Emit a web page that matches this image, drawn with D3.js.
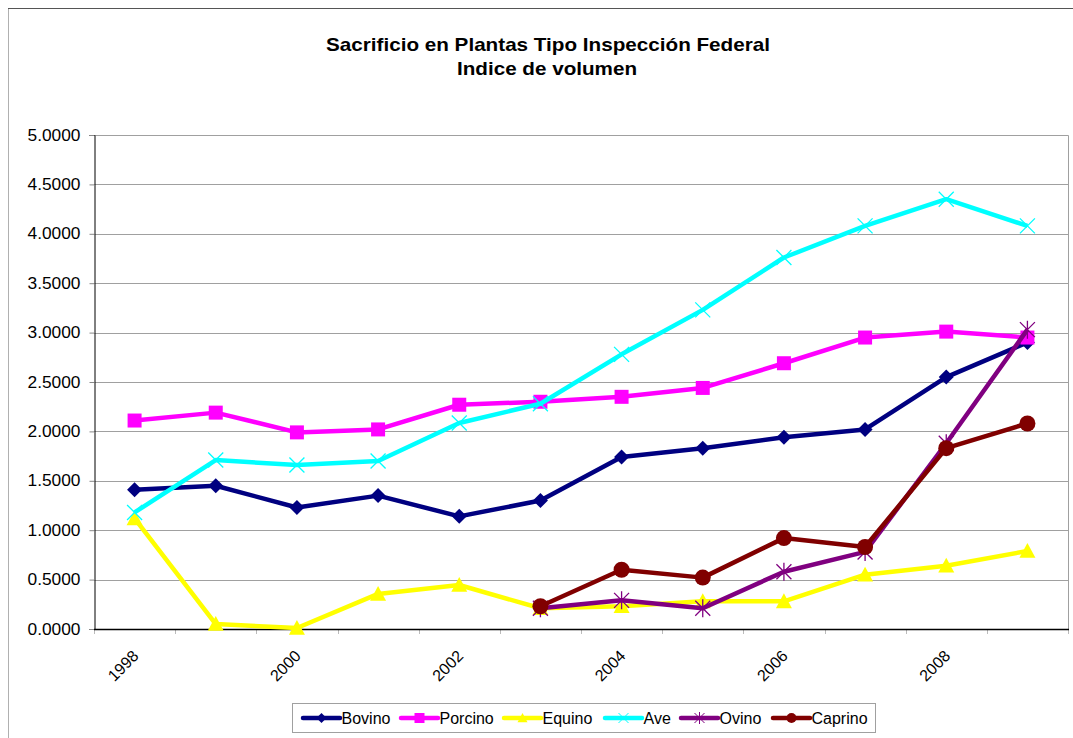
<!DOCTYPE html>
<html>
<head>
<meta charset="utf-8">
<script src="https://cdn.jsdelivr.net/npm/d3@7/dist/d3.min.js"></script>
<style>
  html, body { margin: 0; padding: 0; background: #fff; }
  svg { display: block; font-family: "Liberation Sans", Arial, sans-serif; }
</style>
</head>
<body>
<svg id="chart" width="1073" height="738"></svg>
<script>
const years = [1998, 1999, 2000, 2001, 2002, 2003, 2004, 2005, 2006, 2007, 2008, 2009];
const xTickLabels = [1998, 2000, 2002, 2004, 2006, 2008];
const yTicks = [0, 0.5, 1, 1.5, 2, 2.5, 3, 3.5, 4, 4.5, 5];

const bovino  = [1.41, 1.45, 1.23, 1.35, 1.14, 1.30, 1.74, 1.83, 1.94, 2.02, 2.55, 2.90];
const porcino = [2.11, 2.19, 1.99, 2.02, 2.27, 2.30, 2.35, 2.44, 2.69, 2.95, 3.01, 2.95];
const equino  = [1.12, 0.05, 0.01, 0.355, 0.445, 0.21, 0.23, 0.28, 0.28, 0.55, 0.64, 0.79];
const ave     = [1.18, 1.71, 1.66, 1.70, 2.085, 2.28, 2.78, 3.23, 3.76, 4.08, 4.35, 4.08];
const ovino   = [null, null, null, null, null, 0.21, 0.29, 0.21, 0.58, 0.78, 1.88, 3.03];
const caprino = [null, null, null, null, null, 0.23, 0.60, 0.52, 0.92, 0.83, 1.83, 2.08];

const seriesNames = ["Bovino", "Porcino", "Equino", "Ave", "Ovino", "Caprino"];
const seriesValues = [bovino, porcino, equino, ave, ovino, caprino];
const seriesColors = ["#000080", "#FF00FF", "#FFFF00", "#00FFFF", "#800080", "#800000"];
const seriesMarkers = ["diamond", "square", "triangle", "x", "star", "circle"];

const svg = d3.select("#chart");

// outer chart border
svg.append("line").attr("x1", 8.5).attr("x2", 8.5).attr("y1", 8).attr("y2", 738).attr("stroke", "#b0b0b0").attr("stroke-width", 1);
svg.append("line").attr("x1", 8).attr("x2", 1073).attr("y1", 8.5).attr("y2", 8.5).attr("stroke", "#555").attr("stroke-width", 1);

// title
svg.append("text").attr("x", 548).attr("y", 51).attr("text-anchor", "middle")
  .attr("font-size", "18.5px").attr("font-weight", "bold")
  .attr("textLength", 444).attr("lengthAdjust", "spacingAndGlyphs")
  .text("Sacrificio en Plantas Tipo Inspección Federal");
svg.append("text").attr("x", 547).attr("y", 75).attr("text-anchor", "middle")
  .attr("font-size", "18.5px").attr("font-weight", "bold")
  .attr("textLength", 180).attr("lengthAdjust", "spacingAndGlyphs")
  .text("Indice de volumen");

const plot = { left: 94, right: 1068, top: 135, bottom: 629 };

const x = d3.scaleBand().domain(years).range([plot.left, plot.right]).padding(0);
const y = d3.scaleLinear().domain([0, 5]).range([plot.bottom, plot.top]);
const cx = d => x(d) + x.bandwidth() / 2;

// plot border (top/right)
svg.append("path")
  .attr("d", `M${plot.left},${plot.top + 0.5}H${plot.right + 0.5}V${plot.bottom}`)
  .attr("fill", "none").attr("stroke", "#a0a0a0").attr("stroke-width", 1);

// gridlines
svg.append("g").selectAll("line").data(yTicks.filter(t => t > 0)).join("line")
  .attr("x1", plot.left).attr("x2", plot.right)
  .attr("y1", d => Math.round(y(d)) + 0.5).attr("y2", d => Math.round(y(d)) + 0.5)
  .attr("stroke", "#a0a0a0").attr("stroke-width", 1);

// y axis
const yAxis = d3.axisLeft(y).tickValues(yTicks).tickFormat(d3.format(".4f")).tickSize(5).tickPadding(9);
const gy = svg.append("g").attr("transform", `translate(${plot.left + 0.5},0)`).call(yAxis);
gy.select(".domain").attr("stroke", "#000");
gy.selectAll(".tick line").attr("stroke", "#888");
gy.selectAll("text").attr("font-size", "16px").attr("fill", "#000")
  .attr("font-family", "Liberation Sans, Arial, sans-serif")
  .attr("textLength", 53).attr("lengthAdjust", "spacingAndGlyphs");

// x axis ticks at band boundaries
const boundaries = years.map(yr => x(yr)).concat([plot.right]);
svg.append("g").selectAll("line").data(boundaries).join("line")
  .attr("x1", d => Math.round(d) + 0.5).attr("x2", d => Math.round(d) + 0.5)
  .attr("y1", plot.bottom).attr("y2", plot.bottom + 5)
  .attr("stroke", "#bbb").attr("stroke-width", 1);
svg.append("line").attr("x1", plot.left).attr("x2", plot.right + 1)
  .attr("y1", plot.bottom + 0.5).attr("y2", plot.bottom + 0.5).attr("stroke", "#000").attr("stroke-width", 1.5);

// x labels
svg.append("g").selectAll("text").data(xTickLabels).join("text")
  .attr("text-anchor", "end")
  .attr("font-size", "16px")
  .attr("transform", d => `translate(${cx(d) + 5},657) rotate(-45)`)
  .text(d => d);

// marker paths
function markerPath(type, s) {
  switch (type) {
    case "diamond": return `M0,${-s}L${s},0L0,${s}L${-s},0Z`;
    case "square": return `M${-s},${-s}H${s}V${s}H${-s}Z`;
    case "triangle": return `M0,${-s}L${s},${s * 0.85}L${-s},${s * 0.85}Z`;
    case "x": return `M${-s},${-s}L${s},${s}M${s},${-s}L${-s},${s}`;
    case "star": return `M${-s},${-s}L${s},${s}M${s},${-s}L${-s},${s}M0,${-s * 1.2}V${s * 1.2}`;
    case "circle": return `M${s},0A${s},${s} 0 1,1 ${-s},0A${s},${s} 0 1,1 ${s},0Z`;
  }
}
const markerSize = { diamond: 7.5, square: 7, triangle: 8, x: 7.5, star: 7.5, circle: 8 };
const lineGen = d3.line().defined(d => d.v != null).x(d => cx(d.year)).y(d => y(d.v));

seriesNames.forEach((name, i) => {
  const data = years.map((yr, j) => ({ year: yr, v: seriesValues[i][j] }));
  const g = svg.append("g");
  g.append("path").datum(data).attr("d", lineGen)
    .attr("fill", "none").attr("stroke", seriesColors[i]).attr("stroke-width", 4.5)
    .attr("stroke-linejoin", "round");
  const type = seriesMarkers[i];
  const stroked = type === "x" || type === "star";
  g.selectAll("path.m").data(data.filter(d => d.v != null)).join("path")
    .attr("class", "m")
    .attr("transform", d => `translate(${cx(d.year)},${y(d.v)})`)
    .attr("d", markerPath(type, markerSize[type]))
    .attr("fill", stroked ? "none" : seriesColors[i])
    .attr("stroke", seriesColors[i])
    .attr("stroke-width", stroked ? 1.3 : 0);
});

// legend
const legend = svg.append("g");
legend.append("rect").attr("x", 292.5).attr("y", 703.5).attr("width", 583).attr("height", 29)
  .attr("fill", "#fff").attr("stroke", "#a0a0a0").attr("stroke-width", 1);
const legendX = [303, 401, 504, 605, 681, 773];
seriesNames.forEach((name, i) => {
  const lx = legendX[i], ly = 718;
  legend.append("line").attr("x1", lx).attr("x2", lx + 37).attr("y1", ly).attr("y2", ly)
    .attr("stroke", seriesColors[i]).attr("stroke-width", 4.5).attr("stroke-linecap", "round");
  const type = seriesMarkers[i];
  const stroked = type === "x" || type === "star";
  legend.append("path").attr("transform", `translate(${lx + 18.5},${ly})`)
    .attr("d", markerPath(type, 5))
    .attr("fill", stroked ? "none" : seriesColors[i])
    .attr("stroke", seriesColors[i]).attr("stroke-width", stroked ? 1 : 0);
  legend.append("text").attr("x", lx + 38.5).attr("y", ly + 5.5).attr("font-size", "16px").text(name);
});
</script>
</body>
</html>
